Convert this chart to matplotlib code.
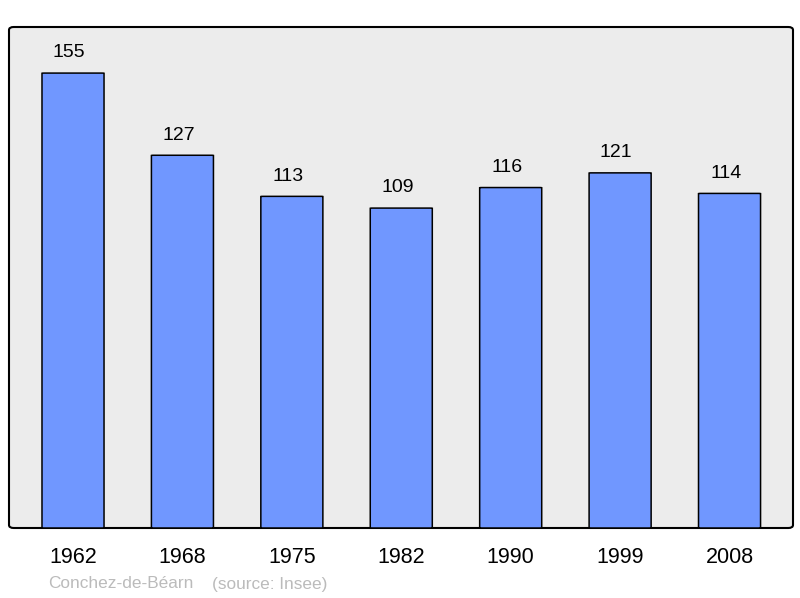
import matplotlib
matplotlib.use("Agg")
from matplotlib import pyplot as plt
from matplotlib.patches import FancyBboxPatch

years = ["1962", "1968", "1975", "1982", "1990", "1999", "2008"]
population = [155, 127, 113, 109, 116, 121, 114]
town = "Conchez-de-Béarn"
source = "(source: Insee)"

plt.rcParams['font.family'] = ['Liberation Sans', 'DejaVu Sans']

fig = plt.figure(figsize=(8, 5.98), dpi=100)
ax = fig.add_axes([9/800, 70/598, 784/800, 501/598])
ax.set_xlim(-0.585, 6.58)
ax.set_ylim(0, 170.7)
ax.axis('off')

# background frame with rounded corners
frame = FancyBboxPatch((0, 0), 1, 1, boxstyle="round,pad=0,rounding_size=0.006",
                       transform=ax.transAxes, facecolor='#ececec',
                       edgecolor='black', linewidth=1.5, clip_on=False, zorder=0)
ax.add_patch(frame)

w = 0.567
for i, v in enumerate(population):
    bar = FancyBboxPatch((i - w/2, 0), w, v, boxstyle="round,pad=0,rounding_size=0.02",
                         mutation_aspect=3.0, facecolor='#7097ff',
                         edgecolor='black', linewidth=1.1, zorder=2)
    ax.add_patch(bar)
    ax.text(i - 0.035, v + 4, str(v), ha='center', va='bottom', fontsize=14, color='black')
    ax.text(i, -6.5, years[i], ha='center', va='top', fontsize=15.5, color='black')

fig.text(48/800, 1 - 584/598, town, fontsize=12.4, color='#bbbbbb', va='center')
fig.text(212/800, 1 - 584/598, source, fontsize=12.4, color='#bbbbbb', va='center')

fig.savefig("out.png", dpi=100)
